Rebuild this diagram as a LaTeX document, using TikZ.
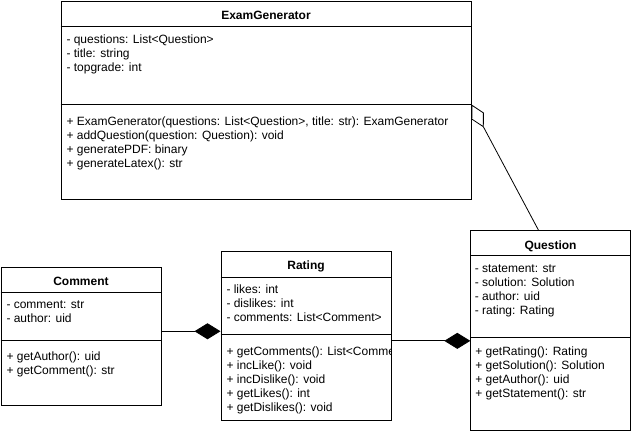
\documentclass[tikz,border=0pt]{standalone}
\usepackage{fontspec}
\setmainfont{Liberation Sans}
\usetikzlibrary{positioning,arrows.meta}

\begin{document}
\begin{tikzpicture}[x=1pt,y=-1pt,line width=1pt,
  font=\fontsize{12}{14}\selectfont,
  classbox/.style={draw,rectangle,inner sep=0pt,anchor=north west},
  classname/.style={font=\fontsize{12}{14}\selectfont\bfseries,inner sep=0pt,text height=8.6pt,text depth=0pt},
  members/.style={inner sep=0pt,align=left,anchor=north west,execute at begin node=\strut},
  compose/.style={line width=0.8pt,-{Diamond[length=26pt,width=16pt]}},
  aggregate/.style={line width=0.8pt,-{Diamond[open,length=26pt,width=14pt]}}]
  \useasboundingbox (0,0) rectangle (631,434);

  \node[classbox,minimum width=410pt,minimum height=198pt] (exam) at (60.5,0.5) {};
  \node[classname] (examname) at ([yshift=-14.3pt]exam.north) {ExamGenerator};
  \coordinate (examattr) at ([yshift=-26pt]exam.north west);
  \coordinate (examop) at ([yshift=-104pt]exam.north west);
  \draw (examattr) -- (examattr -| exam.east);
  \draw (examop) -- (examop -| exam.east);
  \node[members,below right=7.9pt and 5.5pt of examattr] (examattrs)
    {- questions: List\textless Question\textgreater\\- title: string\\- topgrade: int};
  \node[members,below right=11.6pt and 5.5pt of examop] (examops)
    {+ ExamGenerator(questions: List\textless Question\textgreater, title: str): ExamGenerator\\
     + addQuestion(question: Question): void\\+ generatePDF: binary\\+ generateLatex(): str};

  \node[classbox,minimum width=160pt,minimum height=137.5pt] (comment) at (0.5,267) {};
  \node[classname] (commentname) at ([yshift=-14.3pt]comment.north) {Comment};
  \coordinate (commentattr) at ([yshift=-25.5pt]comment.north west);
  \coordinate (commentop) at ([yshift=-73.5pt]comment.north west);
  \draw (commentattr) -- (commentattr -| comment.east);
  \draw (commentop) -- (commentop -| comment.east);
  \node[members,below right=7.9pt and 5.5pt of commentattr] (commentattrs)
    {- comment: str\\- author: uid};
  \node[members,below right=11.2pt and 5.5pt of commentop] (commentops)
    {+ getAuthor(): uid\\+ getComment(): str};

  \node[classbox,minimum width=170pt,minimum height=169.3pt] (rating) at (220.5,250.7) {};
  \node[classname] (ratingname) at ([yshift=-14.3pt]rating.north) {Rating};
  \coordinate (ratingattr) at ([yshift=-26.3pt]rating.north west);
  \coordinate (ratingop) at ([yshift=-83.8pt]rating.north west);
  \draw (ratingattr) -- (ratingattr -| rating.east);
  \draw (ratingop) -- (ratingop -| rating.east);
  \node[members,below right=7.4pt and 5.5pt of ratingattr] (ratingattrs)
    {- likes: int\\- dislikes: int\\- comments: List\textless Comment\textgreater};
  \begin{scope}
    \clip (rating.north west) rectangle (rating.south east);
    \node[members,below right=12.2pt and 5.5pt of ratingop] (ratingops)
      {+ getComments(): List\textless Comment\textgreater\\+ incLike(): void\\+ incDislike(): void\\
       + getLikes(): int\\+ getDislikes(): void};
  \end{scope}

  \node[classbox,minimum width=159.5pt,minimum height=200pt] (question) at (470.3,230.3) {};
  \node[classname] (questionname) at ([yshift=-14.8pt]question.north) {Question};
  \coordinate (questionattr) at ([yshift=-25.2pt]question.north west);
  \coordinate (questionop) at ([yshift=-107.2pt]question.north west);
  \draw (questionattr) -- (questionattr -| question.east);
  \draw (questionop) -- (questionop -| question.east);
  \node[members,below right=8.9pt and 4pt of questionattr] (questionattrs)
    {- statement: str\\- solution: Solution\\- author: uid\\- rating: Rating};
  \node[members,below right=8.6pt and 4.5pt of questionop] (questionops)
    {+ getRating(): Rating\\+ getSolution(): Solution\\+ getAuthor(): uid\\+ getStatement(): str};

  \draw[compose] ([yshift=5pt]comment.east) -- ([yshift=5pt]comment.east -| rating.west);
  \draw[compose] ([yshift=-5pt]rating.east) -- ([yshift=-5pt]rating.east -| question.west);
  \draw[aggregate] ([xshift=-12pt]question.north) -- (examop -| exam.east);
\end{tikzpicture}
\end{document}
